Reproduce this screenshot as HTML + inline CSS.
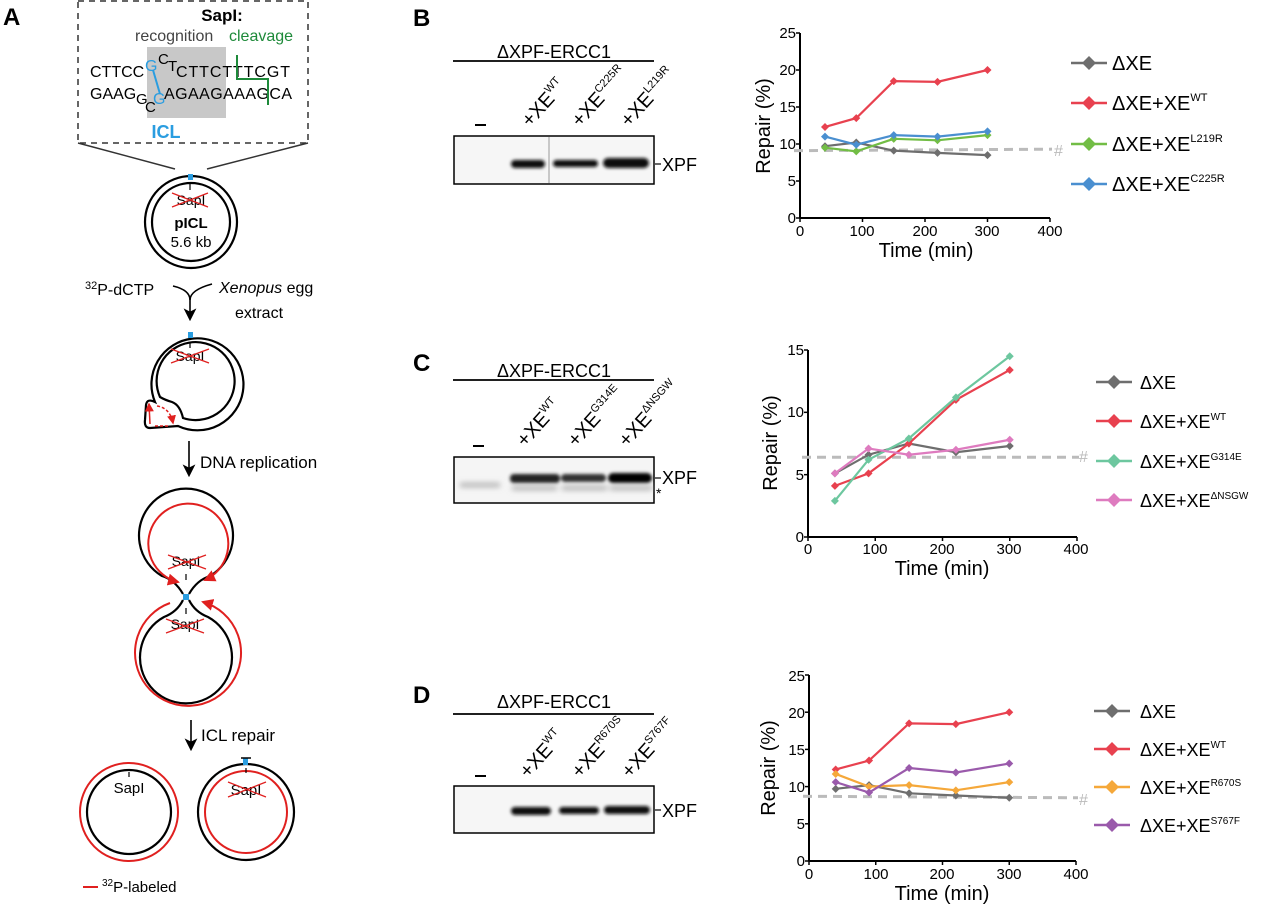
<!DOCTYPE html>
<html><head><meta charset="utf-8"><style>
html,body{margin:0;padding:0;background:#fff;}
svg{display:block;font-family:"Liberation Sans",Arial,sans-serif;}
</style></head><body>
<svg id="s" width="1280" height="904" viewBox="0 0 1280 904" xmlns="http://www.w3.org/2000/svg">
<defs>
<filter id="bl" x="-20%" y="-100%" width="140%" height="300%"><feGaussianBlur stdDeviation="1.6"/></filter>
<filter id="bl2" x="-20%" y="-100%" width="140%" height="300%"><feGaussianBlur stdDeviation="3"/></filter>
<marker id="ar" markerWidth="6" markerHeight="6" refX="5" refY="3" orient="auto"><path d="M0,0 L6,3 L0,6 z" fill="#e0201f"/></marker>
<marker id="ak" markerWidth="8" markerHeight="8" refX="6" refY="4" orient="auto"><path d="M0,0 L8,4 L0,8 L2,4z" fill="#000"/></marker>
</defs>

<!-- ===== Panel A ===== -->
<text x="3" y="25" font-size="24" font-weight="bold">A</text>
<rect x="78" y="1" width="230" height="142" fill="none" stroke="#333" stroke-width="1.5" stroke-dasharray="6,5"/>
<text x="222" y="21" font-size="17" font-weight="bold" text-anchor="middle">SapI:</text>
<text x="135" y="41" font-size="16" fill="#444">recognition</text>
<text x="229" y="41" font-size="16" fill="#1e8a3a">cleavage</text>
<rect x="147" y="47" width="79" height="71" fill="#c8c8c8"/>
<g font-size="16">
<text x="90" y="77">CTTCC</text>
<text x="145" y="71" fill="#2a9de0">G</text>
<text x="158" y="64" font-size="15">C</text>
<text x="168" y="71" font-size="15">T</text>
<text x="176" y="77" textLength="114">CTTCTTTCGT</text>
<text x="90" y="99">GAAG</text>
<text x="136" y="104" font-size="15">G</text>
<text x="145" y="112" font-size="15">C</text>
<text x="153" y="104" fill="#2a9de0">G</text>
<text x="164" y="99" textLength="128">AGAAGAAAGCA</text>
</g>
<path d="M153,70 L160,94" stroke="#2a9de0" stroke-width="2"/>
<path d="M237,55 V79 H268 V105" fill="none" stroke="#1e8a3a" stroke-width="2"/>
<text x="166" y="138" font-size="18" font-weight="bold" fill="#2a9de0" text-anchor="middle">ICL</text>
<path d="M78,143 L175,169 M308,143 L207,169" stroke="#333" stroke-width="1.5"/>

<!-- circle 1 -->
<circle cx="191" cy="222" r="46" fill="none" stroke="#000" stroke-width="2.2"/>
<circle cx="191" cy="222" r="39" fill="none" stroke="#000" stroke-width="2.2"/>
<rect x="188" y="174" width="5" height="6" fill="#2a9de0"/>
<path d="M190,184 V190" stroke="#000" stroke-width="1.2"/>
<text x="191" y="205" font-size="14" text-anchor="middle">SapI</text>
<path d="M172,193 L208,207 M172,207 L208,193" stroke="#e0201f" stroke-width="1.3"/>
<text x="191" y="228" font-size="15" font-weight="bold" text-anchor="middle">pICL</text>
<text x="191" y="247" font-size="15" text-anchor="middle">5.6 kb</text>

<text x="85" y="295" font-size="16"><tspan font-size="11" dy="-6">32</tspan><tspan dy="6">P-dCTP</tspan></text>
<text x="219" y="293" font-size="16"><tspan font-style="italic">Xenopus</tspan> egg</text>
<text x="235" y="318" font-size="16">extract</text>
<path d="M173,286 Q190,290 190,300 Q190,290 212,284" fill="none" stroke="#000" stroke-width="1.6"/>
<path d="M190,298 V318" stroke="#000" stroke-width="1.6" marker-end="url(#ak)"/>

<!-- circle 2 with bubble -->
<path d="M155,402 A46,46 0 1 1 178,426 L150,428 Q144,428 145,420 L146,405 Q147,398 155,402 Z" fill="none" stroke="#000" stroke-width="2.2"/>
<path d="M160,397 A39,39 0 1 1 183,418 Q180,405 172,402 Q165,400 160,397 Z" fill="none" stroke="#000" stroke-width="2.2"/>
<rect x="188" y="332" width="5" height="6" fill="#2a9de0"/>
<path d="M190,342 V348" stroke="#000" stroke-width="1.2"/>
<text x="190" y="361" font-size="14" text-anchor="middle">SapI</text>
<path d="M171,349 L209,363 M171,363 L209,349" stroke="#e0201f" stroke-width="1.3"/>
<path d="M150,424 L149,404" stroke="#e0201f" stroke-width="1.5" marker-end="url(#ar)"/>
<path d="M157,406 Q170,408 173,423" fill="none" stroke="#e0201f" stroke-width="1.5" stroke-dasharray="3,2" marker-end="url(#ar)"/>
<path d="M155,426 L170,426" stroke="#e0201f" stroke-width="1.5" stroke-dasharray="3,2"/>

<path d="M189,441 V474" stroke="#000" stroke-width="1.6" marker-end="url(#ak)"/>
<text x="200" y="468" font-size="17">DNA replication</text>

<!-- figure 8 -->
<path d="M183,594 Q175,580 162,576 A47,47 0 1 1 210,576 Q197,580 189,594" fill="none" stroke="#000" stroke-width="2.2"/>
<path d="M183,600 Q177,612 164,617 A46,46 0 1 0 208,617 Q195,612 189,600" fill="none" stroke="#000" stroke-width="2.2"/>
<path d="M174,581 A40,40 0 1 1 205,580" fill="none" stroke="#e0201f" stroke-width="2" marker-end="url(#ar)"/>
<path d="M174,581 L178,582" stroke="#e0201f" stroke-width="2" marker-end="url(#ar)"/>
<path d="M170,603 A53,53 0 1 0 203,602" fill="none" stroke="#e0201f" stroke-width="2" marker-end="url(#ar)"/>
<rect x="183" y="594" width="6" height="6" fill="#2a9de0"/>
<text x="186" y="566" font-size="14" text-anchor="middle">SapI</text>
<path d="M168,555 L206,569 M168,569 L206,555" stroke="#e0201f" stroke-width="1.3"/>
<path d="M186,574 V580 M186,608 V614" stroke="#000" stroke-width="1.2"/>
<text x="185" y="629" font-size="14" text-anchor="middle">SapI</text>
<path d="M166,619 L204,633 M166,633 L204,619" stroke="#e0201f" stroke-width="1.3"/>

<path d="M191,720 V748" stroke="#000" stroke-width="1.6" marker-end="url(#ak)"/>
<text x="201" y="741" font-size="17">ICL repair</text>

<!-- final circles -->
<circle cx="129" cy="812" r="49" fill="none" stroke="#e0201f" stroke-width="2"/>
<circle cx="129" cy="812" r="42" fill="none" stroke="#000" stroke-width="2.2"/>
<path d="M129,772 V777" stroke="#000" stroke-width="1.2"/>
<text x="129" y="793" font-size="15" text-anchor="middle">SapI</text>
<circle cx="246" cy="812" r="48" fill="none" stroke="#000" stroke-width="2.2"/>
<circle cx="246" cy="812" r="41" fill="none" stroke="#e0201f" stroke-width="2"/>
<rect x="243" y="758" width="5" height="7" fill="#2a9de0"/>
<path d="M241,758 H251" stroke="#000" stroke-width="1.5"/>
<path d="M246,768 V773" stroke="#000" stroke-width="1.2"/>
<text x="246" y="795" font-size="15" text-anchor="middle">SapI</text>
<path d="M228,782 L266,797 M228,797 L266,782" stroke="#e0201f" stroke-width="1.3"/>
<path d="M83,887 H98" stroke="#e0201f" stroke-width="2"/>
<text x="102" y="892" font-size="15"><tspan font-size="10" dy="-6">32</tspan><tspan dy="6">P-labeled</tspan></text>

<!-- ===== Blots ===== -->
<text x="413" y="26" font-size="24" font-weight="bold">B</text>
<text x="413" y="371" font-size="24" font-weight="bold">C</text>
<text x="413" y="703" font-size="24" font-weight="bold">D</text>

<!-- B blot -->
<text x="554" y="58" font-size="18" text-anchor="middle">ΔXPF-ERCC1</text>
<path d="M453,61 H654" stroke="#000" stroke-width="1.8"/>
<path d="M475,125 H486" stroke="#000" stroke-width="2"/>
<g font-size="20">
<text transform="translate(530,128) rotate(-48)">+XE<tspan font-size="11" dy="-9">WT</tspan></text>
<text transform="translate(580,128) rotate(-48)">+XE<tspan font-size="11" dy="-9">C225R</tspan></text>
<text transform="translate(629,128) rotate(-48)">+XE<tspan font-size="11" dy="-9">L219R</tspan></text>
</g>
<rect x="454" y="136" width="200" height="48" fill="#f6f6f6" stroke="#000" stroke-width="1.5"/>
<path d="M549,137 V183" stroke="#999" stroke-width="1"/>
<g filter="url(#bl)" fill="#111">
<rect x="511" y="160" width="34" height="8" rx="4"/>
<rect x="553" y="160" width="45" height="7" rx="3.5"/>
<rect x="603" y="158" width="46" height="10" rx="5"/>
</g>
<path d="M655,164 H661" stroke="#000" stroke-width="1.2"/>
<text x="662" y="171" font-size="18">XPF</text>

<!-- C blot -->
<text x="554" y="377" font-size="18" text-anchor="middle">ΔXPF-ERCC1</text>
<path d="M453,380 H654" stroke="#000" stroke-width="1.8"/>
<path d="M473,446 H484" stroke="#000" stroke-width="2"/>
<g font-size="20">
<text transform="translate(525,448) rotate(-48)">+XE<tspan font-size="11" dy="-9">WT</tspan></text>
<text transform="translate(576,448) rotate(-48)">+XE<tspan font-size="11" dy="-9">G314E</tspan></text>
<text transform="translate(627,448) rotate(-48)">+XE<tspan font-size="11" dy="-9">ΔNSGW</tspan></text>
</g>
<rect x="454" y="457" width="200" height="46" fill="#f5f5f5" stroke="#000" stroke-width="1.5"/>
<g filter="url(#bl)" fill="#222">
<rect x="510" y="474" width="50" height="9" rx="4"/>
<rect x="561" y="474" width="45" height="8" rx="4" fill="#333"/>
<rect x="608" y="473" width="44" height="10" rx="5" fill="#000"/>
</g>
<g filter="url(#bl2)" fill="#aaa">
<rect x="460" y="483" width="40" height="4"/>
<rect x="512" y="486" width="45" height="4"/>
<rect x="562" y="486" width="45" height="4"/>
<rect x="610" y="486" width="42" height="4"/>
</g>
<path d="M655,478 H661" stroke="#000" stroke-width="1.2"/>
<text x="662" y="484" font-size="18">XPF</text>
<text x="656" y="498" font-size="14">*</text>

<!-- D blot -->
<text x="554" y="708" font-size="18" text-anchor="middle">ΔXPF-ERCC1</text>
<path d="M453,714 H654" stroke="#000" stroke-width="1.8"/>
<path d="M475,776 H486" stroke="#000" stroke-width="2"/>
<g font-size="20">
<text transform="translate(528,779) rotate(-48)">+XE<tspan font-size="11" dy="-9">WT</tspan></text>
<text transform="translate(580,779) rotate(-48)">+XE<tspan font-size="11" dy="-9">R670S</tspan></text>
<text transform="translate(630,779) rotate(-48)">+XE<tspan font-size="11" dy="-9">S767F</tspan></text>
</g>
<rect x="454" y="786" width="200" height="47" fill="#f6f6f6" stroke="#000" stroke-width="1.5"/>
<g filter="url(#bl)" fill="#111">
<rect x="511" y="807" width="40" height="8" rx="4"/>
<rect x="559" y="807" width="40" height="7" rx="3.5"/>
<rect x="604" y="806" width="46" height="8" rx="4"/>
</g>
<path d="M655,810 H661" stroke="#000" stroke-width="1.2"/>
<text x="662" y="817" font-size="18">XPF</text>

<!-- B chart -->
<g font-size="15" text-anchor="end">
<text x="796" y="223">0</text><text x="796" y="186">5</text><text x="796" y="149">10</text><text x="796" y="112">15</text><text x="796" y="75">20</text><text x="796" y="38">25</text>
</g>
<g font-size="15" text-anchor="middle">
<text x="800" y="236">0</text><text x="862" y="236">100</text><text x="925" y="236">200</text><text x="987" y="236">300</text><text x="1050" y="236">400</text>
</g>
<text x="926" y="257" font-size="20" text-anchor="middle">Time (min)</text>
<text transform="translate(770,126) rotate(-90)" font-size="20" text-anchor="middle">Repair (%)</text>
<text x="1054" y="156" font-size="16" fill="#bbb">#</text>
<g font-size="20">
<text x="1112" y="70">ΔXE</text>
<text x="1112" y="110">ΔXE+XE<tspan font-size="11" dy="-9">WT</tspan></text>
<text x="1112" y="151">ΔXE+XE<tspan font-size="11" dy="-9">L219R</tspan></text>
<text x="1112" y="191">ΔXE+XE<tspan font-size="11" dy="-9">C225R</tspan></text>
</g>

<!-- C chart -->
<g font-size="15" text-anchor="end">
<text x="804" y="542">0</text><text x="804" y="480">5</text><text x="804" y="417">10</text><text x="804" y="355">15</text>
</g>
<g font-size="15" text-anchor="middle">
<text x="808" y="554">0</text><text x="875" y="554">100</text><text x="942" y="554">200</text><text x="1009" y="554">300</text><text x="1076" y="554">400</text>
</g>
<text x="942" y="575" font-size="20" text-anchor="middle">Time (min)</text>
<text transform="translate(777,443) rotate(-90)" font-size="20" text-anchor="middle">Repair (%)</text>
<text x="1079" y="462" font-size="16" fill="#bbb">#</text>
<g font-size="18">
<text x="1140" y="389">ΔXE</text>
<text x="1140" y="428">ΔXE+XE<tspan font-size="10" dy="-8">WT</tspan></text>
<text x="1140" y="468">ΔXE+XE<tspan font-size="10" dy="-8">G314E</tspan></text>
<text x="1140" y="507">ΔXE+XE<tspan font-size="10" dy="-8">ΔNSGW</tspan></text>
</g>

<!-- D chart -->
<g font-size="15" text-anchor="end">
<text x="805" y="866">0</text><text x="805" y="829">5</text><text x="805" y="792">10</text><text x="805" y="755">15</text><text x="805" y="718">20</text><text x="805" y="681">25</text>
</g>
<g font-size="15" text-anchor="middle">
<text x="809" y="879">0</text><text x="876" y="879">100</text><text x="942" y="879">200</text><text x="1009" y="879">300</text><text x="1076" y="879">400</text>
</g>
<text x="942" y="900" font-size="20" text-anchor="middle">Time (min)</text>
<text transform="translate(775,768) rotate(-90)" font-size="20" text-anchor="middle">Repair (%)</text>
<text x="1079" y="805" font-size="16" fill="#bbb">#</text>
<g font-size="18">
<text x="1140" y="718">ΔXE</text>
<text x="1140" y="756">ΔXE+XE<tspan font-size="10" dy="-8">WT</tspan></text>
<text x="1140" y="794">ΔXE+XE<tspan font-size="10" dy="-8">R670S</tspan></text>
<text x="1140" y="832">ΔXE+XE<tspan font-size="10" dy="-8">S767F</tspan></text>
</g>
<g id="plots"></g>
</svg>
<script>
var NS="http://www.w3.org/2000/svg",P=document.getElementById("plots");
function el(t,a){var e=document.createElementNS(NS,t);for(var k in a)e.setAttribute(k,a[k]);P.appendChild(e);return e;}
var T=[40,90,150,220,300];
var G="#6e6e6e",R="#e8414f",GR="#72bd45",BL="#4a8fd0",TE="#6dc79f",PK="#de7bbf",OR="#f5a83a",PU="#9a5aab";
function chart(c){
  var X=function(t){return c.x0+t*(c.x1-c.x0)/400},Y=function(v){return c.y0-v*(c.y0-c.yt)/c.max};
  el("line",{x1:c.x0,y1:c.yt,x2:c.x0,y2:c.y0,stroke:"#000","stroke-width":2});
  el("line",{x1:c.x0,y1:c.y0,x2:c.x1,y2:c.y0,stroke:"#000","stroke-width":2});
  for(var v=0;v<=c.max;v+=5)el("line",{x1:c.x0-4,y1:Y(v),x2:c.x0,y2:Y(v),stroke:"#000","stroke-width":1.5});
  for(var t=0;t<=400;t+=100)el("line",{x1:X(t),y1:c.y0,x2:X(t),y2:c.y0+4,stroke:"#000","stroke-width":1.5});
  el("line",{x1:c.x0-6,y1:Y(c.d0),x2:c.x1+2,y2:Y(c.d1),stroke:"#bbb","stroke-width":3,"stroke-dasharray":"9,6"});
  c.s.forEach(function(s,i){
    var pts=T.map(function(t,j){return X(t)+","+Y(s.v[j])}).join(" ");
    el("polyline",{points:pts,fill:"none",stroke:s.c,"stroke-width":2.2});
    T.forEach(function(t,j){var x=X(t),y=Y(s.v[j]);el("path",{d:"M"+x+","+(y-4)+"L"+(x+4)+","+y+"L"+x+","+(y+4)+"L"+(x-4)+","+y+"Z",fill:s.c});});
    var ly=c.ly[i];
    el("line",{x1:c.lx,y1:ly,x2:c.lx+36,y2:ly,stroke:s.c,"stroke-width":2.5});
    var m=c.lx+18;el("path",{d:"M"+m+","+(ly-7)+"L"+(m+7)+","+ly+"L"+m+","+(ly+7)+"L"+(m-7)+","+ly+"Z",fill:s.c});
  });
}
var XE=[9.7,10.2,9.1,8.8,8.5],WT=[12.3,13.5,18.5,18.4,20];
chart({x0:800,x1:1050,y0:218,yt:33,max:25,d0:9.1,d1:9.3,lx:1071,ly:[63,103,144,184],
 s:[{c:G,v:XE},{c:R,v:WT},{c:GR,v:[9.5,9.0,10.7,10.5,11.2]},{c:BL,v:[11,9.9,11.2,11,11.7]}]});
chart({x0:808,x1:1077,y0:537,yt:350,max:15,d0:6.4,d1:6.4,lx:1096,ly:[382,421,461,500],
 s:[{c:G,v:[5.1,6.6,7.5,6.8,7.3]},{c:R,v:[4.1,5.1,7.5,11,13.4]},{c:TE,v:[2.9,6.2,7.9,11.2,14.5]},{c:PK,v:[5.1,7.1,6.6,7.0,7.8]}]});
chart({x0:809,x1:1076,y0:861,yt:675,max:25,d0:8.7,d1:8.5,lx:1094,ly:[711,749,787,825],
 s:[{c:G,v:XE},{c:R,v:WT},{c:OR,v:[11.7,10,10.2,9.5,10.6]},{c:PU,v:[10.6,9.2,12.5,11.9,13.1]}]});
</script>
</body></html>
